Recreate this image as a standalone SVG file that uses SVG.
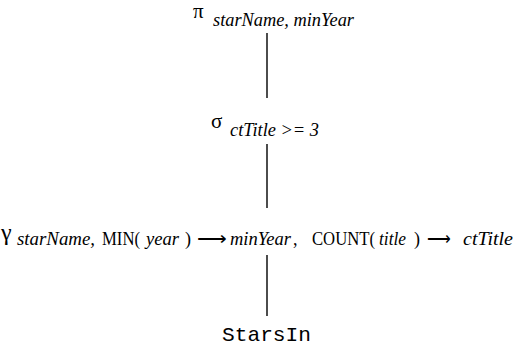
<svg xmlns="http://www.w3.org/2000/svg" width="515" height="350" viewBox="0 0 515 350">
<style>
text{font-family:"Liberation Serif","Times New Roman",serif;fill:#000;font-size:18px}
.sym{font-size:21px}
.g{font-size:24px}
.i{font-style:italic}
.mono{font-family:"Liberation Mono","Courier New",monospace;font-size:21px}
line{stroke:#000;stroke-width:1.4}
</style>
<g id="connectors">
<line x1="267" y1="33" x2="267" y2="98"/>
<line x1="267" y1="144" x2="267" y2="208"/>
<line x1="267" y1="255" x2="267" y2="316"/>
</g>
<g id="pi">
<text x="193" y="18" class="sym">π</text>
<text x="213" y="26" class="i" textLength="141" lengthAdjust="spacingAndGlyphs">starName, minYear</text>
</g>
<g id="sigma">
<text x="211" y="128" class="sym">σ</text>
<text x="230" y="136" class="i" textLength="89" lengthAdjust="spacingAndGlyphs">ctTitle &gt;= 3</text>
</g>
<g id="gamma">
<text x="1" y="240" class="g">γ</text>
<text x="17" y="245" class="i" textLength="78" lengthAdjust="spacingAndGlyphs">starName,</text>
<text x="102" y="245" textLength="38" lengthAdjust="spacingAndGlyphs">MIN(</text>
<text x="146" y="245" class="i" textLength="33" lengthAdjust="spacingAndGlyphs">year</text>
<text x="185" y="245">)</text>
<text x="197" y="245" textLength="30" lengthAdjust="spacingAndGlyphs">⟶</text>
<text x="230" y="245" class="i" textLength="61" lengthAdjust="spacingAndGlyphs">minYear</text>
<text x="293" y="245">,</text>
<text x="312" y="245" textLength="63" lengthAdjust="spacingAndGlyphs">COUNT(</text>
<text x="379" y="245" class="i" textLength="27" lengthAdjust="spacingAndGlyphs">title</text>
<text x="414" y="245">)</text>
<text x="427" y="245" textLength="24" lengthAdjust="spacingAndGlyphs">⟶</text>
<text x="463" y="245" class="i" textLength="50" lengthAdjust="spacingAndGlyphs">ctTitle</text>
</g>
<g id="starsin">
<text x="222" y="341" class="mono" textLength="89" lengthAdjust="spacingAndGlyphs">StarsIn</text>
</g>
</svg>
